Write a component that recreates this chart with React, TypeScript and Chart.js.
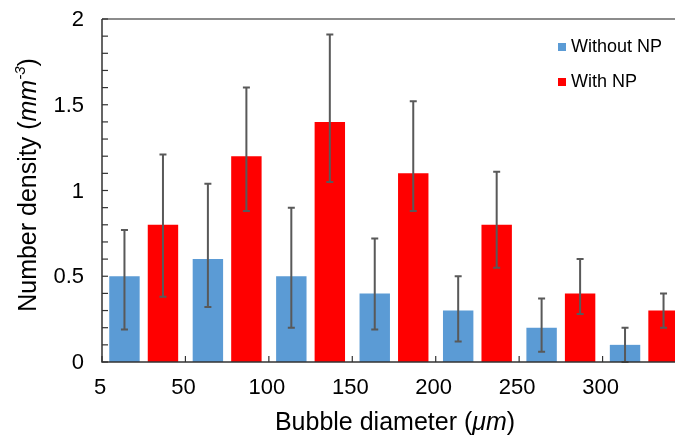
import { useEffect, useRef } from "react";
import { Chart, registerables } from "chart.js";
Chart.register(...registerables);

const groupLabels = ["5", "50", "100", "150", "200", "250", "300"];
const withoutNP = [0.5, 0.6, 0.5, 0.4, 0.3, 0.2, 0.1];
const withoutLow = [0.19, 0.32, 0.2, 0.19, 0.12, 0.06, 0];
const withoutHigh = [0.77, 1.04, 0.9, 0.72, 0.5, 0.37, 0.2];
const withNP = [0.8, 1.2, 1.4, 1.1, 0.8, 0.4, 0.3];
const withLow = [0.38, 0.88, 1.05, 0.88, 0.55, 0.28, 0.2];
const withHigh = [1.21, 1.6, 1.91, 1.52, 1.11, 0.6, 0.4];
const yTickLabels = ["0", "0.5", "1", "1.5", "2"];
const yTickValues = [0, 0.5, 1, 1.5, 2];

const BLUE = "#5B9BD5";
const RED = "#FF0000";
const W = 700;
const H = 436;
const FONT = "'Liberation Sans', Arial, sans-serif";

export default function App() {
  const ref = useRef<HTMLCanvasElement>(null);
  useEffect(() => {
    const canvas = ref.current!;
    const lows = [withoutLow, withLow];
    const highs = [withoutHigh, withHigh];

    const errorPlugin = {
      id: "errorbars",
      afterDatasetsDraw(chart: any) {
        const ctx = chart.ctx;
        const y = chart.scales.y;
        ctx.save();
        ctx.strokeStyle = "#595959";
        ctx.lineWidth = 2;
        chart.data.datasets.forEach((_: any, di: number) => {
          const meta = chart.getDatasetMeta(di);
          meta.data.forEach((bar: any, i: number) => {
            const x = bar.x;
            const yl = y.getPixelForValue(lows[di][i]);
            const yh = y.getPixelForValue(highs[di][i]);
            ctx.beginPath();
            ctx.moveTo(x, yl);
            ctx.lineTo(x, yh);
            ctx.moveTo(x - 3.5, yl);
            ctx.lineTo(x + 3.5, yl);
            ctx.moveTo(x - 3.5, yh);
            ctx.lineTo(x + 3.5, yh);
            ctx.stroke();
          });
        });
        ctx.restore();
      },
    };

    const decor = {
      id: "decor",
      afterDraw(chart: any) {
        const ctx = chart.ctx;
        const xs = chart.scales.x;
        const ys = chart.scales.y;
        const a = chart.chartArea;
        ctx.save();
        // frame
        ctx.lineWidth = 1.5;
        ctx.strokeStyle = "#666";
        ctx.beginPath();
        ctx.moveTo(a.left, a.top);
        ctx.lineTo(a.right, a.top);
        ctx.stroke();
        ctx.strokeStyle = "#333";
        ctx.beginPath();
        ctx.moveTo(a.left, a.top);
        ctx.lineTo(a.left, a.bottom);
        ctx.lineTo(a.right, a.bottom);
        ctx.stroke();
        // y ticks (inward)
        ctx.lineWidth = 1.2;
        for (let k = 0; k <= 20; k++) {
          const py = ys.getPixelForValue(k / 10);
          ctx.beginPath();
          ctx.moveTo(a.left, py);
          ctx.lineTo(a.left + 6, py);
          ctx.stroke();
        }
        // x ticks at group boundaries (inward)
        for (let i = 0; i <= groupLabels.length; i++) {
          const px = xs.getPixelForValue(i - 0.5);
          ctx.beginPath();
          ctx.moveTo(px, a.bottom);
          ctx.lineTo(px, a.bottom - 6);
          ctx.stroke();
        }
        // tick labels
        ctx.fillStyle = "#000";
        ctx.font = `22px ${FONT}`;
        ctx.textBaseline = "middle";
        ctx.textAlign = "right";
        yTickValues.forEach((v, i) => {
          ctx.fillText(yTickLabels[i], 84, ys.getPixelForValue(v) + 1);
        });
        ctx.textAlign = "center";
        groupLabels.forEach((lab, i) => {
          const px = xs.getPixelForValue(i - 0.5);
          ctx.fillText(lab, px - 2, 388);
        });
        // x title
        const xParts: [string, string][] = [
          ["Bubble diameter (", `25px ${FONT}`],
          ["\u03bcm", `italic 25px ${FONT}`],
          [")", `25px ${FONT}`],
        ];
        let tw = 0;
        xParts.forEach(([t, f]) => {
          ctx.font = f;
          tw += ctx.measureText(t).width;
        });
        let cx = 395 - tw / 2;
        ctx.textAlign = "left";
        xParts.forEach(([t, f]) => {
          ctx.font = f;
          ctx.fillText(t, cx, 423);
          cx += ctx.measureText(t).width;
        });
        // y title
        const yParts: [string, string, number][] = [
          ["Number density (", `25px ${FONT}`, 0],
          ["mm", `italic 25px ${FONT}`, 0],
          ["-3", `italic 15px ${FONT}`, -8],
          [")", `25px ${FONT}`, 0],
        ];
        let th = 0;
        yParts.forEach(([t, f]) => {
          ctx.font = f;
          th += ctx.measureText(t).width;
        });
        ctx.save();
        ctx.translate(29, 185);
        ctx.rotate(-Math.PI / 2);
        let cy = -th / 2;
        yParts.forEach(([t, f, dy]) => {
          ctx.font = f;
          ctx.fillText(t, cy, dy);
          cy += ctx.measureText(t).width;
        });
        ctx.restore();
        // legend
        ctx.font = `18px ${FONT}`;
        chart.data.datasets.forEach((ds: any, i: number) => {
          const ly = 47 + i * 35;
          ctx.fillStyle = ds.backgroundColor;
          ctx.fillRect(558, ly - 4, 8, 8);
          ctx.fillStyle = "#000";
          ctx.fillText(ds.label, 571, ly);
        });
        ctx.restore();
      },
    };

    const chart = new Chart(canvas, {
      type: "bar",
      data: {
        labels: groupLabels,
        datasets: [
          { label: "Without NP", data: withoutNP, backgroundColor: BLUE },
          { label: "With NP", data: withNP, backgroundColor: RED },
        ],
      },
      options: {
        responsive: false,
        animation: false,
        devicePixelRatio: 1,
        layout: { padding: { left: 102, right: W - 686, top: 19, bottom: H - 362 } },
        datasets: { bar: { categoryPercentage: 0.923, barPercentage: 0.79 } },
        plugins: { legend: { display: false }, tooltip: { enabled: false } },
        scales: {
          x: { display: false, offset: true },
          y: { display: false, min: 0, max: 2 },
        },
      },
      plugins: [errorPlugin, decor],
    } as any);
    return () => chart.destroy();
  }, []);
  return (
    <div
      style={{
        position: "absolute",
        left: 0,
        top: 0,
        width: 675,
        height: 436,
        overflow: "hidden",
        background: "#fff",
      }}
    >
      <canvas ref={ref} width={W} height={H} style={{ display: "block" }} />
    </div>
  );
}
